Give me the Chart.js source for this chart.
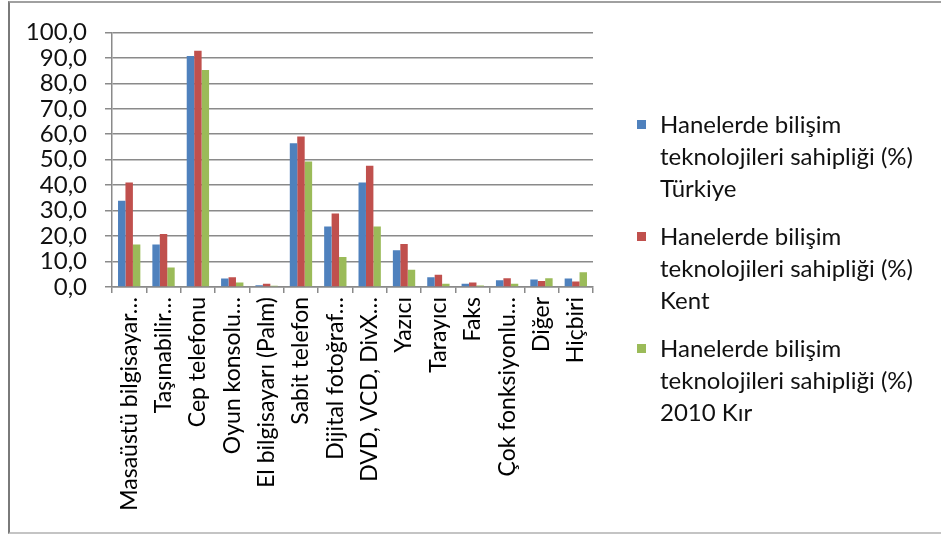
<!DOCTYPE html>
<html>
<head>
<meta charset="utf-8">
<script src="https://cdn.jsdelivr.net/npm/chart.js@4/dist/chart.umd.min.js"></script>
<style>
  html, body { margin: 0; padding: 0; background: #fff; }
  #wrap { position: relative; width: 941px; height: 534px; overflow: hidden; }
  #frame {
    position: absolute; left: 8px; top: 1px; width: 940px; height: 533px;
    border-left: 2px solid #7a7a7a; border-top: 2px solid #a0a0a0; border-bottom: 2px solid #c4c4c4;
    box-sizing: border-box;
  }
  #chart { position: absolute; left: 0; top: 0; }
  #legend {
    position: absolute; left: 637px; top: 108px; width: 300px;
    font-family: Lato, sans-serif; font-size: 24px; line-height: 32px; color: #111;
  }
  .item { position: relative; padding-left: 23px; width: 265px; margin-bottom: 16px; }
  .box { position: absolute; left: 0; top: 12px; width: 9px; height: 9px; }
</style>
</head>
<body>
<div id="wrap">
  <div id="frame"></div>
  <canvas id="chart" width="941" height="534"></canvas>
  <div id="legend"></div>
</div>
<script>
const categories = [
  'Masaüstü bilgisayar…', 'Taşınabilir…', 'Cep telefonu', 'Oyun konsolu…',
  'El bilgisayarı (Palm)', 'Sabit telefon', 'Dijital fotoğraf…', 'DVD, VCD, DivX…',
  'Yazıcı', 'Tarayıcı', 'Faks', 'Çok fonksiyonlu…', 'Diğer', 'Hiçbiri'
];
const seriesNames = [
  'Hanelerde bilişim teknolojileri sahipliği (%) Türkiye',
  'Hanelerde bilişim teknolojileri sahipliği (%) Kent',
  'Hanelerde bilişim teknolojileri sahipliği (%) 2010 Kır'
];
const turkiye = [33.9, 16.7, 90.7, 3.3, 0.7, 56.5, 23.8, 41.0, 14.4, 3.8, 1.3, 2.7, 2.9, 3.3];
const kent = [41.0, 20.8, 92.8, 3.8, 1.3, 59.1, 28.9, 47.6, 16.9, 4.8, 1.8, 3.4, 2.4, 2.2];
const kir = [16.7, 7.7, 85.2, 1.8, 0.5, 49.3, 11.8, 23.8, 6.8, 1.3, 0.6, 1.3, 3.4, 5.8];
const yTicks = [0, 10, 20, 30, 40, 50, 60, 70, 80, 90, 100];

const colors = ['#4F81BD', '#C0504D', '#9BBB59'];
const seriesValues = [turkiye, kent, kir];

const datasets = seriesNames.map((name, i) => ({
  label: name,
  data: seriesValues[i],
  backgroundColor: colors[i],
  borderWidth: 0,
  categoryPercentage: 0.65,
  barPercentage: 1
}));

new Chart(document.getElementById('chart'), {
  type: 'bar',
  data: { labels: categories, datasets },
  options: {
    responsive: false,
    animation: false,
    layout: { padding: { top: 32, right: 348, left: 8, bottom: 0 } },
    plugins: { legend: { display: false }, tooltip: { enabled: false } },
    scales: {
      x: {
        grid: { drawOnChartArea: false, drawTicks: true, tickLength: 6, color: '#8a8a8a', lineWidth: 1.5, offset: true },
        border: { color: '#8a8a8a', width: 1.5 },
        ticks: {
          autoSkip: false, minRotation: 90, maxRotation: 90, padding: 4,
          color: '#000', font: { family: 'Lato', size: 23 }
        },
        afterFit: (s) => { s.height = 247; }
      },
      y: {
        min: 0, max: 100,
        afterBuildTicks: (s) => { s.ticks = yTicks.map(v => ({ value: v })); },
        grid: { color: '#8a8a8a', lineWidth: 1.5, tickLength: 7 },
        border: { color: '#8a8a8a', width: 1.5 },
        ticks: {
          autoSkip: false, padding: 18, color: '#111', font: { family: 'Lato', size: 24 },
          callback: (v) => v.toFixed(1).replace('.', ',')
        },
        afterFit: (s) => { s.width = 104; }
      }
    }
  }
});

const legend = document.getElementById('legend');
seriesNames.forEach((name, i) => {
  const item = document.createElement('div');
  item.className = 'item';
  const box = document.createElement('span');
  box.className = 'box';
  box.style.background = colors[i];
  item.appendChild(box);
  item.appendChild(document.createTextNode(name));
  legend.appendChild(item);
});
</script>
</body>
</html>
